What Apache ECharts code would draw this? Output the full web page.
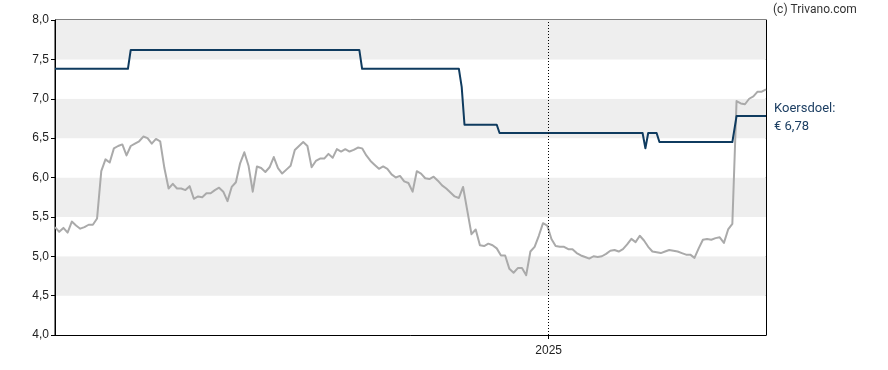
<!DOCTYPE html>
<html>
<head>
<meta charset="utf-8">
<script src="https://cdn.jsdelivr.net/npm/echarts@6/dist/echarts.min.js"></script>
<style>
html,body{margin:0;padding:0;background:#fff;}
#chart{width:888px;height:370px;}
</style>
</head>
<body>
<div id="chart"></div>
<script>
// ---- data ----
const START_DATE = [2024, 0, 15];   // first sample
const STEP_DAYS = 3;                // spacing of price samples
const END_DATE = [2025, 5, 5];      // right edge of the chart
const YEAR_MARK = [2025, 0, 1];     // year boundary shown on the x axis

const prices = [
  5.37, 5.31, 5.36, 5.30, 5.44, 5.39, 5.35, 5.37, 5.40, 5.40,
  5.48, 6.08, 6.23, 6.19, 6.37, 6.40, 6.42, 6.28, 6.40, 6.43,
  6.46, 6.52, 6.50, 6.43, 6.49, 6.46, 6.12, 5.86, 5.92, 5.86,
  5.86, 5.84, 5.89, 5.73, 5.76, 5.75, 5.80, 5.80, 5.84, 5.87,
  5.82, 5.70, 5.88, 5.94, 6.18, 6.32, 6.15, 5.82, 6.14, 6.12,
  6.07, 6.13, 6.26, 6.12, 6.05, 6.10, 6.15, 6.35, 6.40, 6.45,
  6.40, 6.13, 6.21, 6.24, 6.24, 6.30, 6.25, 6.36, 6.33, 6.36,
  6.33, 6.35, 6.38, 6.37, 6.28, 6.21, 6.16, 6.11, 6.14, 6.11,
  6.04, 6.00, 6.02, 5.95, 5.93, 5.82, 6.08, 6.05, 5.99, 5.98,
  6.01, 5.96, 5.90, 5.86, 5.81, 5.76, 5.74, 5.88, 5.58, 5.28,
  5.34, 5.14, 5.13, 5.16, 5.14, 5.10, 5.01, 5.01, 4.84, 4.79,
  4.85, 4.85, 4.76, 5.06, 5.12, 5.26, 5.42, 5.39, 5.22, 5.13,
  5.12, 5.12, 5.09, 5.09, 5.04, 5.01, 4.99, 4.97, 5.00, 4.99,
  5.00, 5.03, 5.07, 5.08, 5.06, 5.09, 5.15, 5.22, 5.18, 5.26,
  5.20, 5.12, 5.06, 5.05, 5.04, 5.06, 5.08, 5.07, 5.06, 5.04,
  5.02, 5.02, 4.98, 5.10, 5.21, 5.22, 5.21, 5.23, 5.24, 5.17,
  5.34, 5.41, 6.97, 6.94, 6.93, 7.00, 7.03, 7.09, 7.09, 7.12
];

// price target (koersdoel) – step line, given at its change points
const targetDates = [
  '2024-01-15', '2024-03-07', '2024-03-09', '2024-08-19', '2024-08-21',
  '2024-10-29', '2024-10-31', '2024-11-02', '2024-11-25', '2024-11-27',
  '2025-03-09', '2025-03-11', '2025-03-13', '2025-03-19', '2025-03-21',
  '2025-05-12', '2025-05-15', '2025-06-05'
];
const targetValues = [
  7.38, 7.38, 7.62, 7.62, 7.38,
  7.38, 7.15, 6.67, 6.67, 6.565,
  6.565, 6.37, 6.565, 6.565, 6.45,
  6.45, 6.78, 6.78
];

const yTicks = { min: 4, max: 8, interval: 0.5 };
const targetLabel = 'Koersdoel:';
const copyright = '(c) Trivano.com';

// ---- build ----
function localTs(parts) { return new Date(parts[0], parts[1], parts[2]).getTime(); }
function parseDay(s) { const p = s.split('-').map(Number); return new Date(p[0], p[1] - 1, p[2]).getTime(); }

const startTs = localTs(START_DATE);
const endTs = localTs(END_DATE);
const yearTs = localTs(YEAR_MARK);

const priceData = prices.map((v, i) => {
  const d = new Date(START_DATE[0], START_DATE[1], START_DATE[2] + i * STEP_DAYS);
  return [d.getTime(), v];
});
const targetData = targetDates.map((d, i) => [parseDay(d), targetValues[i]]);

const fmt = v => v.toFixed(1).replace('.', ',');
const navy = '#0f3b5f';
const axisFont = '"Liberation Sans", Arial, sans-serif';

const chart = echarts.init(document.getElementById('chart'), null, { renderer: 'canvas' });
chart.setOption({
  animation: false,
  backgroundColor: '#ffffff',
  textStyle: { fontFamily: 'Roboto, Arial, sans-serif' },
  grid: { left: 55, top: 20, right: 122, bottom: 35, containLabel: false,
          show: true, borderColor: '#000', borderWidth: 1, backgroundColor: 'transparent' },
  graphic: [{
    type: 'text', left: 773, top: 4,
    style: { text: copyright, fill: '#333333', font: '12px Roboto, Arial, sans-serif' }
  }],
  xAxis: [{
    type: 'value', min: startTs, max: endTs, position: 'bottom',
    axisLine: { show: true, lineStyle: { color: '#000', width: 1 } },
    axisTick: { show: true, customValues: [yearTs], length: 4, lineStyle: { color: '#000' } },
    axisLabel: {
      show: true, customValues: [yearTs], color: '#222', fontSize: 12, margin: 10,
      fontFamily: axisFont,
      formatter: v => String(new Date(v).getFullYear())
    },
    splitLine: { show: false }
  }],
  yAxis: [{
    type: 'value', min: yTicks.min, max: yTicks.max, interval: yTicks.interval, position: 'left',
    axisLine: { show: true, lineStyle: { color: '#000', width: 1 } },
    axisTick: { show: true, length: 4, lineStyle: { color: '#000' } },
    axisLabel: { color: '#222', fontSize: 12, margin: 6, formatter: fmt, fontFamily: axisFont },
    splitLine: { show: false },
    splitArea: { show: true, areaStyle: { color: ['#ffffff', '#eeeeee'] } }
  }, {
    type: 'value', min: yTicks.min, max: yTicks.max, interval: yTicks.interval, position: 'right',
    axisLine: { show: true, lineStyle: { color: '#000', width: 1 } },
    axisTick: { show: false }, axisLabel: { show: false }, splitLine: { show: false },
    splitArea: { show: false }
  }],
  series: [{
    name: 'Koers', type: 'line', data: priceData,
    showSymbol: false, symbol: 'none',
    lineStyle: { color: '#aaaaaa', width: 2, join: 'round' },
    z: 2,
    markLine: {
      silent: true, symbol: 'none', animation: false,
      label: { show: false },
      lineStyle: { color: '#000', width: 1, type: [1, 2] },
      data: [{ xAxis: yearTs }]
    }
  }, {
    name: 'Koersdoel', type: 'line', data: targetData,
    showSymbol: false, symbol: 'none',
    lineStyle: { color: navy, width: 2, join: 'round' },
    z: 3,
    endLabel: {
      show: true, distance: 8, color: '#1d3f63', fontSize: 13, lineHeight: 18, align: 'left',
      offset: [0, 2],
      formatter: p => targetLabel + '\n€ ' + p.value[1].toFixed(2).replace('.', ',')
    }
  }]
});
</script>
</body>
</html>
